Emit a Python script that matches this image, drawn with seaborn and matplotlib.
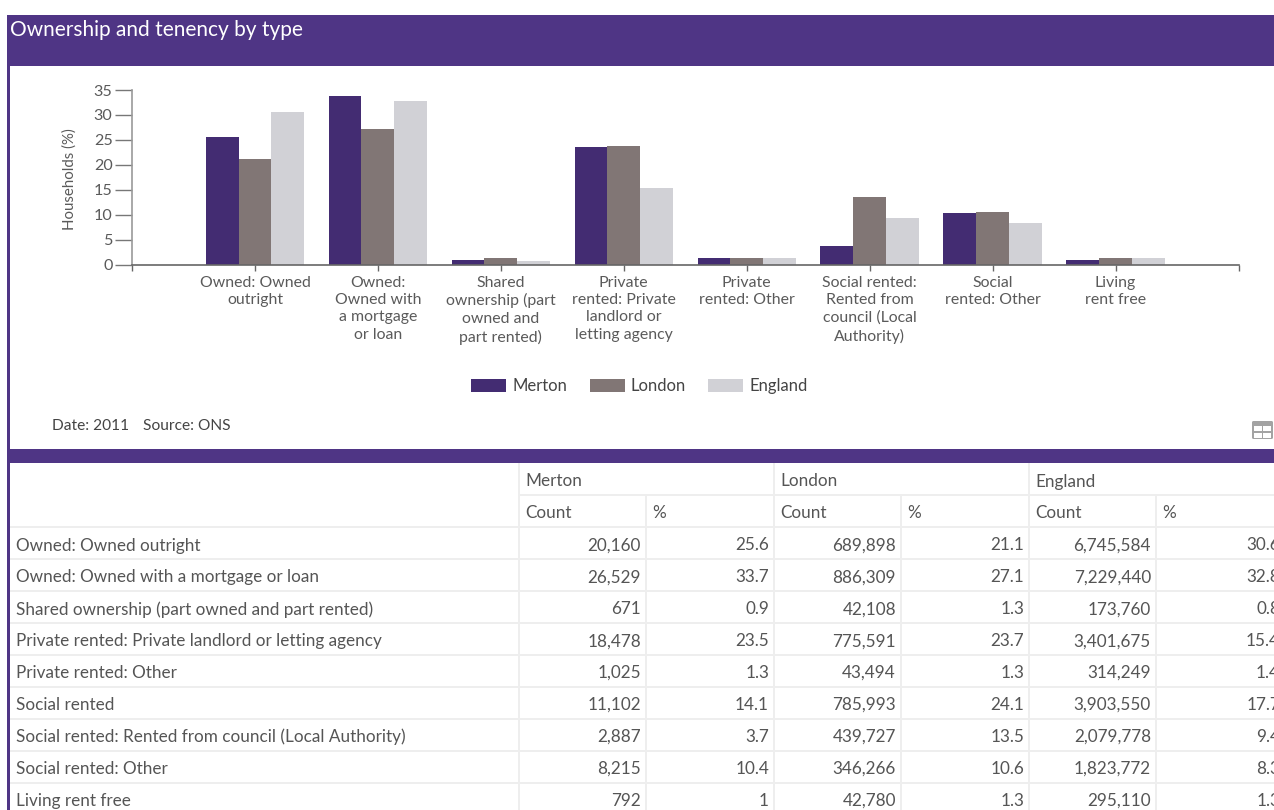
import matplotlib
matplotlib.use("Agg")
import matplotlib.pyplot as plt
from matplotlib.patches import Rectangle, FancyBboxPatch
import pandas as pd
import seaborn as sns

W, H = 1274, 810

chart_labels = [
    "Owned: Owned\noutright",
    "Owned:\nOwned with\na mortgage\nor loan",
    "Shared\nownership (part\nowned and\npart rented)",
    "Private\nrented: Private\nlandlord or\nletting agency",
    "Private\nrented: Other",
    "Social rented:\nRented from\ncouncil (Local\nAuthority)",
    "Social\nrented: Other",
    "Living\nrent free",
]
merton_pct = [25.6, 33.7, 0.9, 23.5, 1.3, 3.7, 10.4, 1.0]
london_pct = [21.1, 27.1, 1.3, 23.7, 1.3, 13.5, 10.6, 1.3]
england_pct = [30.6, 32.8, 0.8, 15.4, 1.4, 9.4, 8.3, 1.3]
areas = ["Merton", "London", "England"]

row_labels = [
    "Owned: Owned outright",
    "Owned: Owned with a mortgage or loan",
    "Shared ownership (part owned and part rented)",
    "Private rented: Private landlord or letting agency",
    "Private rented: Other",
    "Social rented",
    "Social rented: Rented from council (Local Authority)",
    "Social rented: Other",
    "Living rent free",
]
merton_count = ["20,160", "26,529", "671", "18,478", "1,025", "11,102", "2,887", "8,215", "792"]
merton_share = ["25.6", "33.7", "0.9", "23.5", "1.3", "14.1", "3.7", "10.4", "1"]
london_count = ["689,898", "886,309", "42,108", "775,591", "43,494", "785,993", "439,727", "346,266", "42,780"]
london_share = ["21.1", "27.1", "1.3", "23.7", "1.3", "24.1", "13.5", "10.6", "1.3"]
england_count = ["6,745,584", "7,229,440", "173,760", "3,401,675", "314,249", "3,903,550", "2,079,778", "1,823,772", "295,110"]
england_share = ["30.6", "32.8", "0.8", "15.4", "1.4", "17.7", "9.4", "8.3", "1.3"]

PURPLE = "#4f3585"
BAR_COLORS = ["#432c72", "#817675", "#d1d1d6"]
GRID = "#eeeeee"
TXT = "#555555"
CHART_TXT = "#5a5a5a"
TABLE_FS = 12.3

sns.set_theme(style="white")
plt.rcParams["font.family"] = ["Lato", "DejaVu Sans"]

fig = plt.figure(figsize=(W / 100, H / 100), dpi=100, facecolor="white")

# page layer in pixel coordinates
page = fig.add_axes([0, 0, 1, 1], zorder=0)
page.set_xlim(0, W)
page.set_ylim(H, 0)
page.axis("off")
page.add_patch(Rectangle((7, 15), W - 7, 51, color=PURPLE, lw=0))
page.add_patch(Rectangle((7, 15), 3, H - 15, color=PURPLE, lw=0))
page.add_patch(Rectangle((7, 449), W - 7, 14, color=PURPLE, lw=0))
page.text(10, 29.5, "Ownership and tenency by type", color="white", fontsize=15.05, va="center", ha="left")
page.text(52, 425.5, "Date: 2011", color="#444444", fontsize=11.2, va="center", ha="left")
page.text(143, 425.5, "Source: ONS", color="#444444", fontsize=11.2, va="center", ha="left")

# table icon
page.add_patch(FancyBboxPatch((1252, 421), 21, 18, boxstyle="round,pad=0,rounding_size=1.5", color="#a3a3a3", lw=0))
for ix in (1254, 1263):
    for iy in (426, 433):
        page.add_patch(Rectangle((ix, iy), 8, 4.5, color="white", lw=0))

# table
col_x = [519, 646, 774, 901, 1029, 1156]
row_y = [463, 495, 527, 559, 591, 623, 655, 687, 719, 751, 783, 815]
for i, y in enumerate(row_y[1:], start=1):
    x0 = 519 if i == 1 else 10
    page.plot([x0, W], [y, y], color=GRID, lw=1.4, solid_capstyle="butt")
for i, x in enumerate(col_x):
    y0 = 495 if i % 2 else 463
    page.plot([x, x], [y0, H], color=GRID, lw=1.4, solid_capstyle="butt")

for name, x in zip(areas, col_x[0::2]):
    page.text(x + 6.5, 481.5, name, color=TXT, fontsize=TABLE_FS, va="center", ha="left")
for x in col_x[0::2]:
    page.text(x + 6.5, 513.5, "Count", color=TXT, fontsize=TABLE_FS, va="center", ha="left")
for x in col_x[1::2]:
    page.text(x + 6.5, 513.5, "%", color=TXT, fontsize=TABLE_FS, va="center", ha="left")

columns = [merton_count, merton_share, london_count, london_share, england_count, england_share]
for r, label in enumerate(row_labels):
    yc = 545.5 + r * 31.9
    page.text(16.5, yc, label, color=TXT, fontsize=TABLE_FS, va="center", ha="left")
    for c, col in enumerate(columns):
        right = col_x[c + 1] - 5 if c < 5 else 1280
        page.text(right, yc, col[r], color=TXT, fontsize=TABLE_FS, va="center", ha="right")

# chart
df = pd.DataFrame({
    "Type": chart_labels * 3,
    "Area": sum([[a] * len(chart_labels) for a in areas], []),
    "Households": merton_pct + london_pct + england_pct,
})
ax = fig.add_axes([132 / W, 1 - 264.5 / H, (1238.5 - 132) / W, (264.5 - 90) / H], zorder=1)
ax.patch.set_alpha(0)
sns.barplot(data=df, x="Type", y="Households", hue="Area", hue_order=areas,
            palette=BAR_COLORS, width=0.8, saturation=1, ax=ax, legend=True, linewidth=0)
ax.set_xlim(-1, 8)
ax.set_ylim(0, 35)
ax.set_yticks(range(0, 36, 5))
ax.set_xlabel("")
ax.set_ylabel("Households (%)", color=CHART_TXT, fontsize=10.8)
ax.yaxis.set_label_coords((77 - 132) / (1238.5 - 132), (264.5 - 179.5) / (264.5 - 90))
sns.despine(ax=ax, top=True, right=True)
for s in ("left", "bottom"):
    ax.spines[s].set_color("#666666")
    ax.spines[s].set_linewidth(1.2)
ax.spines["left"].set_color("#999999")
ax.tick_params(axis="y", left=True, length=12, width=1, color="#777777", labelcolor=CHART_TXT, labelsize=11.6, pad=2)
ax.tick_params(axis="x", bottom=True, length=4, width=1, color="#666666", labelcolor=CHART_TXT, labelsize=11.4, pad=4)
ax.set_xticks(list(range(-1, 9)))
ax.set_xticklabels([""] + chart_labels + [""], linespacing=1.31)

handles, labels = ax.get_legend_handles_labels()
ax.legend(handles, labels, loc="center", bbox_to_anchor=(639.5 / W, 1 - 386 / H),
          bbox_transform=fig.transFigure, ncol=3, frameon=False, fontsize=12,
          handlelength=2.1, handleheight=0.85, handletextpad=0.36, columnspacing=1.35,
          labelcolor="#444444")

fig.savefig("out.png", dpi=100, facecolor="white")
